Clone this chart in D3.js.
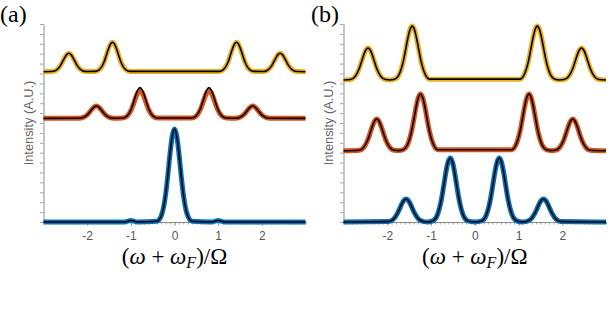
<!DOCTYPE html>
<html>
<head>
<meta charset="utf-8">
<script src="https://cdn.jsdelivr.net/npm/d3@7"></script>
<style>
  body { margin: 0; background: #fff; }
  svg { display: block; }
  .axis path, .axis line { stroke: #8e8e8e; }
  .axis text { fill: #555; font-family: "Liberation Sans", Arial, sans-serif; font-size: 12px; }
  .y-label { fill: #666; font-family: "Liberation Sans", Arial, sans-serif; font-size: 12.8px; }
  .panel-label, .x-label { fill: #000; font-family: "Liberation Serif", "Times New Roman", serif; }
</style>
</head>
<body>
<svg id="chart"></svg>
<script>
const majorTicks = [-2, -1, 0, 1, 2];
const traceColors = ['#0072BD', '#D95319', '#EDB120'];

// panel (a): vertical offsets of the stacked traces
const offsetsA = [0, 1.047, 1.518];

const blueA = [
  [-3, 0], [-1.15, 0], [-1, 0.015], [-0.85, 0],
  [-0.4, 0.008], [-0.3, 0.066], [-0.2, 0.288], [-0.15, 0.483], [-0.1, 0.699], [-0.05, 0.873], [0, 0.94],
  [0.05, 0.873], [0.1, 0.699], [0.15, 0.483], [0.2, 0.288], [0.3, 0.066], [0.4, 0.008],
  [0.85, 0], [1, 0.015], [1.15, 0], [3, 0]
];

const orangeA = [
  [-3, 0],
  [-2.19, 0.001], [-2.09, 0.009], [-1.99, 0.038], [-1.94, 0.064], [-1.89, 0.092], [-1.84, 0.115], [-1.79, 0.124],
  [-1.74, 0.115], [-1.69, 0.092], [-1.64, 0.064], [-1.59, 0.038], [-1.49, 0.009], [-1.39, 0.001],
  [-1.19, 0.003], [-1.09, 0.020], [-0.99, 0.086], [-0.94, 0.144], [-0.89, 0.208], [-0.84, 0.260], [-0.79, 0.28],
  [-0.74, 0.260], [-0.69, 0.208], [-0.64, 0.144], [-0.59, 0.086], [-0.49, 0.020], [-0.39, 0.003],
  [0.39, 0.003], [0.49, 0.020], [0.59, 0.086], [0.64, 0.144], [0.69, 0.208], [0.74, 0.260], [0.79, 0.28],
  [0.84, 0.260], [0.89, 0.208], [0.94, 0.144], [0.99, 0.086], [1.09, 0.020], [1.19, 0.003],
  [1.39, 0.001], [1.49, 0.009], [1.59, 0.038], [1.64, 0.064], [1.69, 0.092], [1.74, 0.115], [1.79, 0.124],
  [1.84, 0.115], [1.89, 0.092], [1.94, 0.064], [1.99, 0.038], [2.09, 0.009], [2.19, 0.001],
  [3, 0]
];

// fit for the orange trace overshoots the two inner peaks a little
const orangeFitA = [
  [-3, 0],
  [-2.19, 0.001], [-2.09, 0.009], [-1.99, 0.038], [-1.94, 0.064], [-1.89, 0.092], [-1.84, 0.115], [-1.79, 0.124],
  [-1.74, 0.115], [-1.69, 0.092], [-1.64, 0.064], [-1.59, 0.038], [-1.49, 0.009], [-1.39, 0.001],
  [-1.19, 0.003], [-1.09, 0.022], [-0.99, 0.095], [-0.94, 0.159], [-0.89, 0.231], [-0.84, 0.288], [-0.79, 0.31],
  [-0.74, 0.288], [-0.69, 0.231], [-0.64, 0.159], [-0.59, 0.095], [-0.49, 0.022], [-0.39, 0.003],
  [0.39, 0.003], [0.49, 0.022], [0.59, 0.095], [0.64, 0.159], [0.69, 0.231], [0.74, 0.288], [0.79, 0.31],
  [0.84, 0.288], [0.89, 0.231], [0.94, 0.159], [0.99, 0.095], [1.09, 0.022], [1.19, 0.003],
  [1.39, 0.001], [1.49, 0.009], [1.59, 0.038], [1.64, 0.064], [1.69, 0.092], [1.74, 0.115], [1.79, 0.124],
  [1.84, 0.115], [1.89, 0.092], [1.94, 0.064], [1.99, 0.038], [2.09, 0.009], [2.19, 0.001],
  [3, 0]
];

const yellowA = [
  [-3, 0],
  [-2.82, 0.002], [-2.72, 0.013], [-2.62, 0.057], [-2.57, 0.096], [-2.52, 0.138], [-2.47, 0.173], [-2.42, 0.186],
  [-2.37, 0.173], [-2.32, 0.138], [-2.27, 0.096], [-2.22, 0.057], [-2.12, 0.013], [-2.02, 0.002],
  [-1.82, 0.003], [-1.72, 0.021], [-1.62, 0.091], [-1.57, 0.153], [-1.52, 0.221], [-1.47, 0.276], [-1.42, 0.297],
  [-1.37, 0.276], [-1.32, 0.221], [-1.27, 0.153], [-1.22, 0.091], [-1.12, 0.021], [-1.02, 0.003],
  [1.02, 0.003], [1.12, 0.021], [1.22, 0.091], [1.27, 0.153], [1.32, 0.221], [1.37, 0.276], [1.42, 0.297],
  [1.47, 0.276], [1.52, 0.221], [1.57, 0.153], [1.62, 0.091], [1.72, 0.021], [1.82, 0.003],
  [2.02, 0.002], [2.12, 0.013], [2.22, 0.057], [2.27, 0.096], [2.32, 0.138], [2.37, 0.173], [2.42, 0.186],
  [2.47, 0.173], [2.52, 0.138], [2.57, 0.096], [2.62, 0.057], [2.72, 0.013], [2.82, 0.002],
  [3, 0]
];

// panel (b)
const offsetsB = [0, 0.72, 1.434];

const blueB = [
  [-3, 0],
  [-1.97, 0.004], [-1.87, 0.023], [-1.77, 0.084], [-1.72, 0.131], [-1.67, 0.180], [-1.62, 0.218], [-1.57, 0.232],
  [-1.52, 0.218], [-1.47, 0.180], [-1.42, 0.131], [-1.37, 0.084], [-1.27, 0.023], [-1.17, 0.004],
  [-1.07, 0.001],
  [-0.96, 0.011], [-0.86, 0.065], [-0.76, 0.233], [-0.71, 0.364], [-0.66, 0.501], [-0.61, 0.606], [-0.56, 0.646],
  [-0.51, 0.606], [-0.46, 0.501], [-0.41, 0.364], [-0.36, 0.233], [-0.26, 0.065], [-0.16, 0.011],
  [0, 0.001],
  [0.16, 0.011], [0.26, 0.065], [0.36, 0.233], [0.41, 0.364], [0.46, 0.501], [0.51, 0.606], [0.56, 0.646],
  [0.61, 0.606], [0.66, 0.501], [0.71, 0.364], [0.76, 0.233], [0.86, 0.065], [0.96, 0.011],
  [1.07, 0.001],
  [1.17, 0.004], [1.27, 0.023], [1.37, 0.084], [1.42, 0.131], [1.47, 0.180], [1.52, 0.218], [1.57, 0.232],
  [1.62, 0.218], [1.67, 0.180], [1.72, 0.131], [1.77, 0.084], [1.87, 0.023], [1.97, 0.004],
  [3, 0]
];

const orangeB = [
  [-3, 0],
  [-2.64, 0.005], [-2.54, 0.032], [-2.44, 0.115], [-2.39, 0.180], [-2.34, 0.248], [-2.29, 0.300], [-2.24, 0.32],
  [-2.19, 0.300], [-2.14, 0.248], [-2.09, 0.180], [-2.04, 0.115], [-1.94, 0.032], [-1.84, 0.005],
  [-1.74, 0.001],
  [-1.64, 0.010], [-1.54, 0.058], [-1.44, 0.206], [-1.39, 0.323], [-1.34, 0.444], [-1.29, 0.537], [-1.24, 0.573],
  [-1.19, 0.537], [-1.14, 0.444], [-1.09, 0.323], [-1.04, 0.206], [-0.94, 0.058], [-0.84, 0.010],
  [0.84, 0.010], [0.94, 0.058], [1.04, 0.206], [1.09, 0.323], [1.14, 0.444], [1.19, 0.537], [1.24, 0.573],
  [1.29, 0.537], [1.34, 0.444], [1.39, 0.323], [1.44, 0.206], [1.54, 0.058], [1.64, 0.010],
  [1.74, 0.001],
  [1.84, 0.005], [1.94, 0.032], [2.04, 0.115], [2.09, 0.180], [2.14, 0.248], [2.19, 0.300], [2.24, 0.32],
  [2.29, 0.300], [2.34, 0.248], [2.39, 0.180], [2.44, 0.115], [2.54, 0.032], [2.64, 0.005],
  [3, 0]
];

const yellowB = [
  [-3, 0],
  [-2.84, 0.005], [-2.74, 0.033], [-2.64, 0.116], [-2.59, 0.182], [-2.54, 0.250], [-2.49, 0.303], [-2.44, 0.323],
  [-2.39, 0.303], [-2.34, 0.250], [-2.29, 0.182], [-2.24, 0.116], [-2.14, 0.033], [-2.04, 0.005],
  [-1.94, 0.001],
  [-1.83, 0.009], [-1.73, 0.055], [-1.63, 0.196], [-1.58, 0.307], [-1.53, 0.422], [-1.48, 0.511], [-1.43, 0.545],
  [-1.38, 0.511], [-1.33, 0.422], [-1.28, 0.307], [-1.23, 0.196], [-1.13, 0.055], [-1.03, 0.009],
  [1.03, 0.009], [1.13, 0.055], [1.23, 0.196], [1.28, 0.307], [1.33, 0.422], [1.38, 0.511], [1.43, 0.545],
  [1.48, 0.511], [1.53, 0.422], [1.58, 0.307], [1.63, 0.196], [1.73, 0.055], [1.83, 0.009],
  [1.94, 0.001],
  [2.04, 0.005], [2.14, 0.033], [2.24, 0.116], [2.29, 0.182], [2.34, 0.250], [2.39, 0.303], [2.44, 0.323],
  [2.49, 0.303], [2.54, 0.250], [2.59, 0.182], [2.64, 0.116], [2.74, 0.033], [2.84, 0.005],
  [3, 0]
];

class SpectrumPanel {

  constructor(_config, _traces) {
    this.config = {
      svg: _config.svg,
      left: _config.left,
      right: _config.right,
      top: _config.top || 24,
      bottom: _config.bottom || 222,
      label: _config.label,
      labelX: _config.labelX
    }
    this.traces = _traces;
    this.initVis();
  }

  initVis() {
    let vis = this;

    vis.xScale = d3.scaleLinear()
        .domain([-3, 3])
        .range([vis.config.left, vis.config.right]);

    vis.yScale = d3.scaleLinear()
        .domain([0, 2])
        .range([vis.config.bottom, vis.config.top]);

    vis.g = vis.config.svg.append('g');

    // minor ticks every 0.1 along the bottom
    vis.g.append('g')
        .attr('class', 'axis x-minor')
        .attr('transform', `translate(0,${vis.config.bottom})`)
        .call(d3.axisBottom(vis.xScale).ticks(60).tickSize(2.5).tickSizeOuter(0).tickFormat(''));

    vis.g.append('g')
        .attr('class', 'axis x-axis')
        .attr('transform', `translate(0,${vis.config.bottom})`)
        .call(d3.axisBottom(vis.xScale)
          .tickValues(majorTicks)
          .tickSize(4)
          .tickSizeOuter(0)
          .tickPadding(5)
          .tickFormat(d => String(d)));

    vis.g.append('g')
        .attr('class', 'axis y-axis')
        .attr('transform', `translate(${vis.config.left},0)`)
        .call(d3.axisLeft(vis.yScale).ticks(20).tickSize(3.5).tickSizeOuter(0).tickFormat(''));

    vis.g.selectAll('.axis path').attr('stroke-width', 1);
    vis.g.selectAll('.axis line').attr('stroke-width', 0.8);

    vis.g.append('text')
        .attr('class', 'y-label')
        .attr('transform', `translate(${vis.config.left - 11},123) rotate(-90)`)
        .attr('text-anchor', 'middle')
        .text('Intensity (A.U.)');

    vis.g.append('text')
        .attr('class', 'panel-label')
        .attr('x', vis.config.labelX)
        .attr('y', 22)
        .attr('font-size', 24)
        .text(vis.config.label);

    let xl = vis.g.append('text')
        .attr('class', 'x-label')
        .attr('x', vis.xScale(0))
        .attr('y', 264)
        .attr('text-anchor', 'middle')
        .attr('font-size', 23);
    xl.append('tspan').text('(');
    xl.append('tspan').attr('font-style', 'italic').text('ω');
    xl.append('tspan').text(' + ');
    xl.append('tspan').attr('font-style', 'italic').text('ω');
    xl.append('tspan').attr('font-style', 'italic').attr('font-size', 16).attr('dy', 4).text('F');
    xl.append('tspan').attr('dy', -4).text(')/Ω');

    vis.renderVis();
  }

  renderVis() {
    let vis = this;

    vis.traces.forEach(t => {
      let line = d3.line()
          .x(d => vis.xScale(d[0]))
          .y(d => vis.yScale(d[1] + t.offset))
          .curve(d3.curveMonotoneX);

      vis.g.append('path')
          .attr('class', 'data-line')
          .attr('d', line(t.data))
          .attr('fill', 'none')
          .attr('stroke', t.color)
          .attr('stroke-width', 5)
          .attr('stroke-linejoin', 'round');

      vis.g.append('path')
          .attr('class', 'fit-line')
          .attr('d', line(t.fit))
          .attr('fill', 'none')
          .attr('stroke', '#000')
          .attr('stroke-width', 1.6)
          .attr('stroke-linejoin', 'round');
    });
  }
}

const svg = d3.select('#chart')
    .attr('width', 614)
    .attr('height', 322);

new SpectrumPanel({svg: svg, left: 43.5, right: 305.5, label: '(a)', labelX: 0}, [
  {data: blueA, fit: blueA, offset: offsetsA[0], color: traceColors[0]},
  {data: orangeA, fit: orangeFitA, offset: offsetsA[1], color: traceColors[1]},
  {data: yellowA, fit: yellowA, offset: offsetsA[2], color: traceColors[2]}
]);

new SpectrumPanel({svg: svg, left: 343.5, right: 606, label: '(b)', labelX: 311}, [
  {data: blueB, fit: blueB, offset: offsetsB[0], color: traceColors[0]},
  {data: orangeB, fit: orangeB, offset: offsetsB[1], color: traceColors[1]},
  {data: yellowB, fit: yellowB, offset: offsetsB[2], color: traceColors[2]}
]);
</script>
</body>
</html>
